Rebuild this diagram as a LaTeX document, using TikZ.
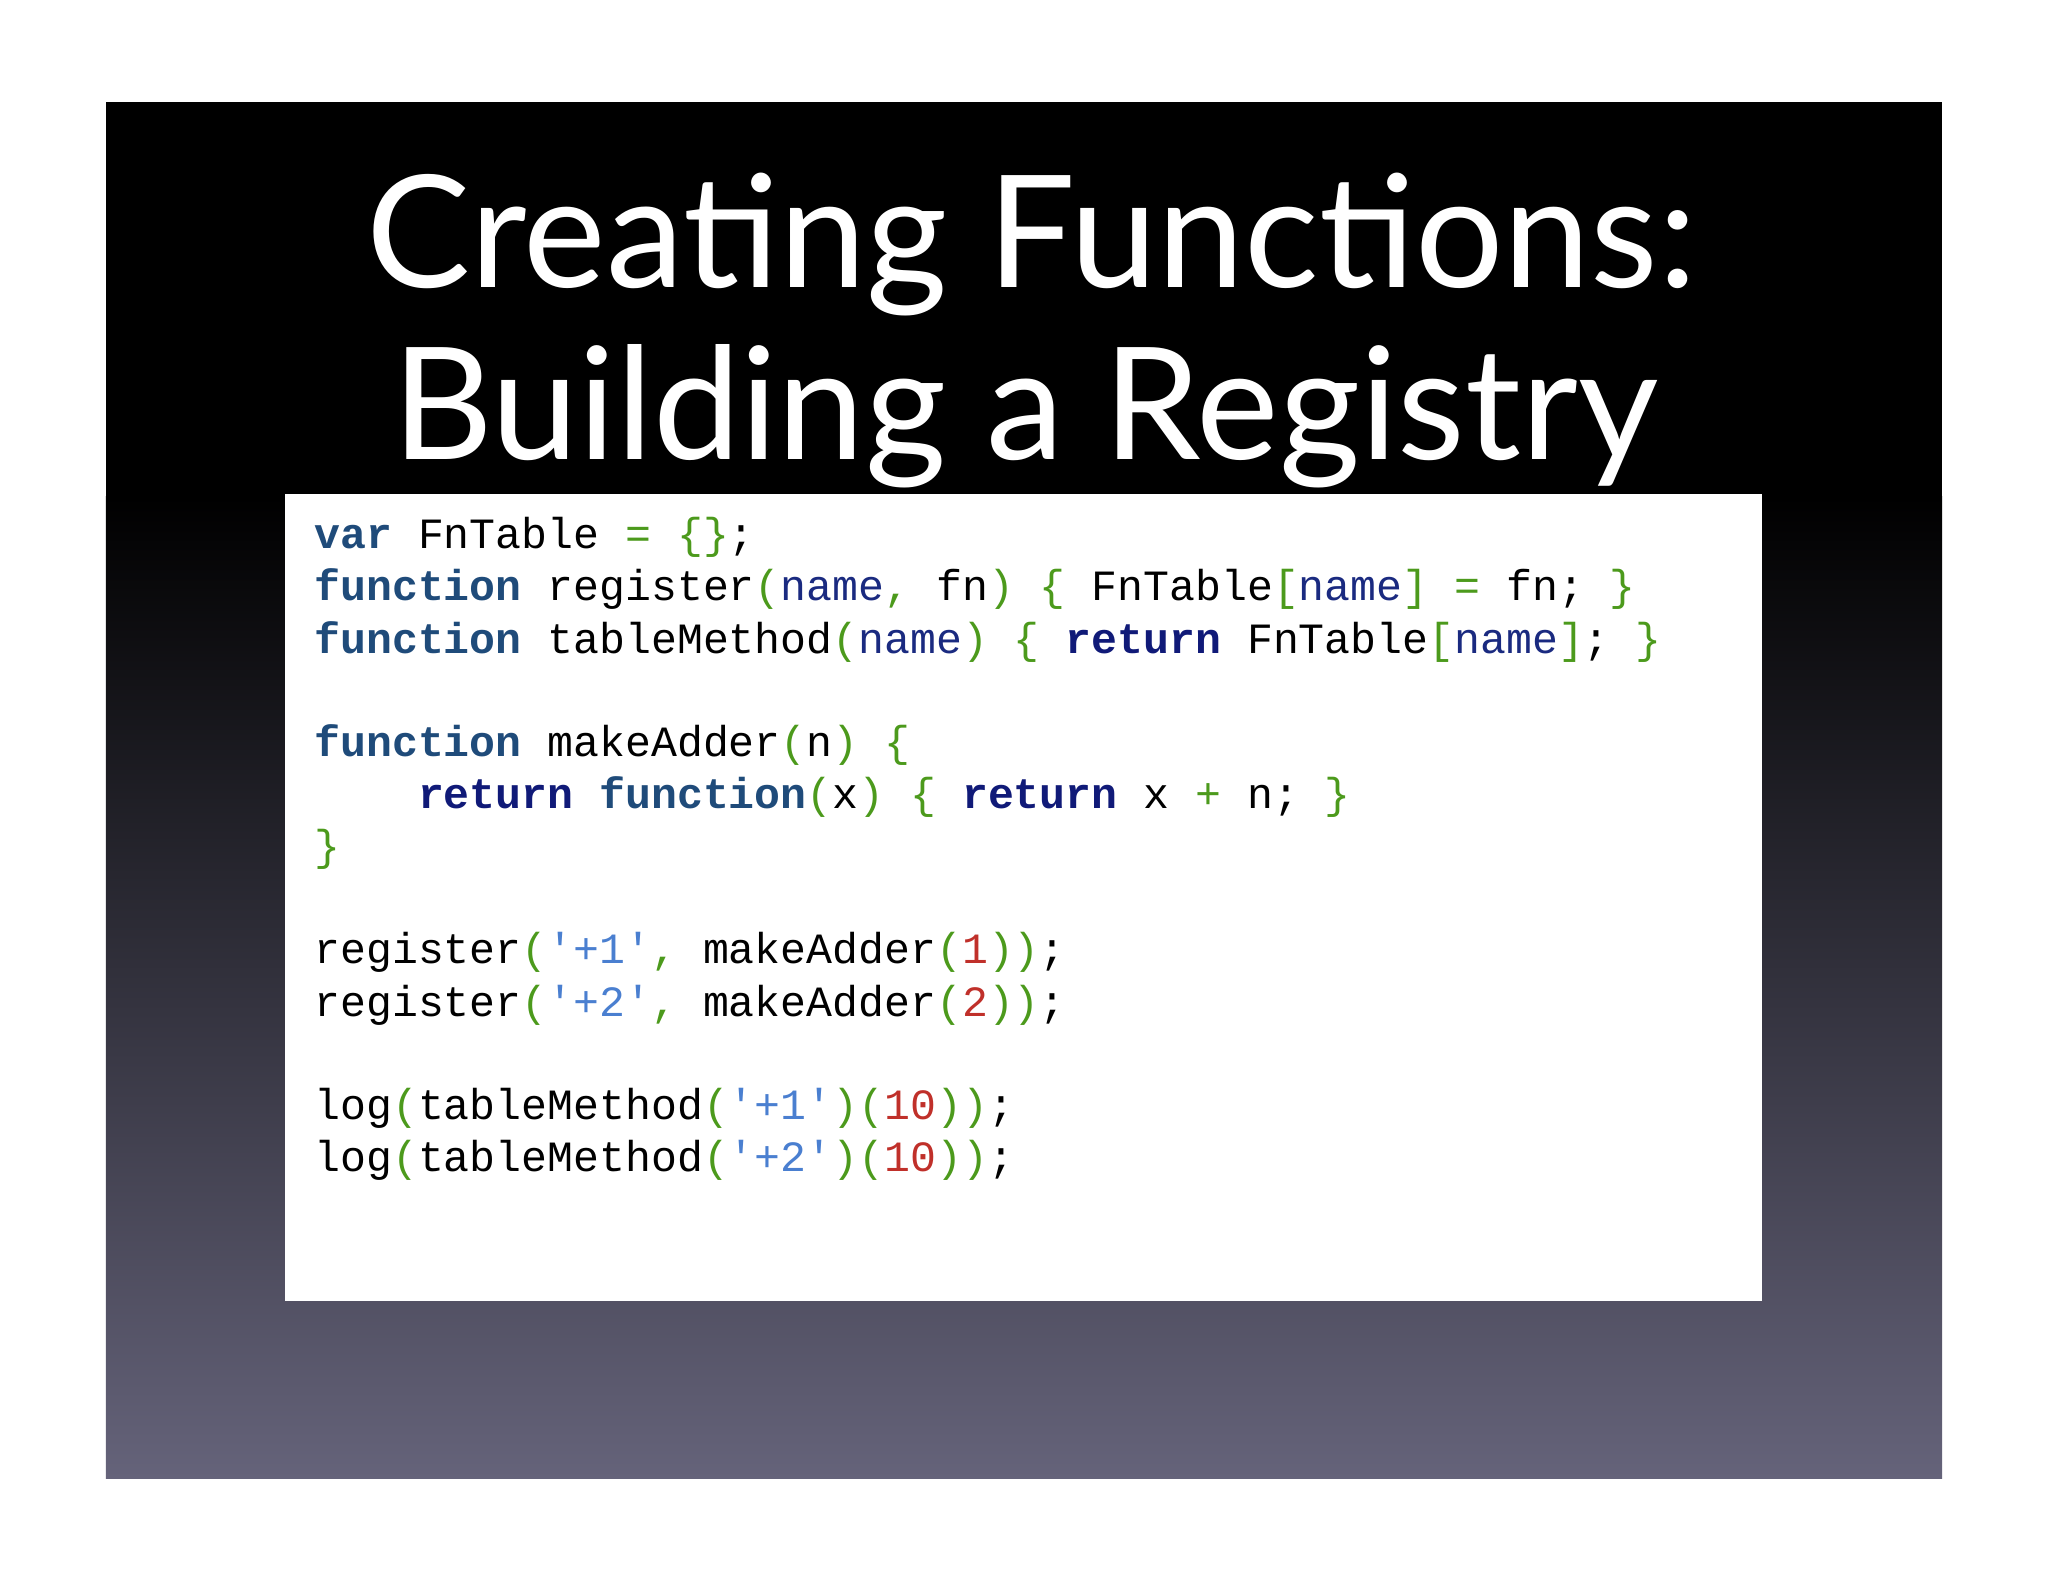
\documentclass[tikz,border=0pt]{standalone}
\usepackage{fontspec}
\setmainfont{Lato}
\newfontfamily\codefont{Liberation Mono}
\definecolor{kwc}{HTML}{1F4B7A}
\definecolor{rtc}{HTML}{101A78}
\definecolor{pnc}{HTML}{4C9A1C}
\definecolor{nmc}{HTML}{1A2A80}
\definecolor{stc}{HTML}{4A7FD0}
\definecolor{nuc}{HTML}{C0302A}
\definecolor{slidebot}{HTML}{65637A}
\definecolor{slidemid}{HTML}{2A2A45}
\newcommand{\kw}[1]{\textcolor{kwc}{\bfseries #1}}
\newcommand{\rt}[1]{\textcolor{rtc}{\bfseries #1}}
\newcommand{\pn}[1]{\textcolor{pnc}{#1}}
\newcommand{\nm}[1]{\textcolor{nmc}{#1}}
\newcommand{\st}[1]{\textcolor{stc}{#1}}
\newcommand{\nr}[1]{\textcolor{nuc}{#1}}
\tikzset{
  codeline/.style={anchor=base west, inner sep=0pt, font=\codefont\fontsize{9.4}{11}\selectfont},
  titleline/.style={anchor=base, inner sep=0pt, text=white, font=\fontsize{34}{40}\selectfont}
}
\begin{document}
\begin{tikzpicture}[x=0.01cm, y=-0.01cm]
  \useasboundingbox (0,0) rectangle (1568,1211);
  % slide background
  \fill[black] (81,78) rectangle (1487,380);
  \shade[top color=black, middle color=slidemid, bottom color=slidebot] (81,380) rectangle (1487,1132);
  \node[titleline] (t1) at (790,220) {Creating Functions:};
  \node[titleline] (t2) at (785,352) {Building a Registry};
  % code box
  \fill[white] (218,378) rectangle (1349,996);
  \node[codeline] (c1) at (240,420) {\kw{var} FnTable \pn{=} \pn{\{\}};};
  \node[codeline] (c2) at (240,460) {\kw{function} register\pn{(}\nm{name}\pn{,} fn\pn{)} \pn{\{} FnTable\pn{[}\nm{name}\pn{]} \pn{=} fn; \pn{\}}};
  \node[codeline] (c3) at (240,500) {\kw{function} tableMethod\pn{(}\nm{name}\pn{)} \pn{\{} \rt{return} FnTable\pn{[}\nm{name}\pn{]}; \pn{\}}};
  \node[codeline] (c4) at (240,579) {\kw{function} makeAdder\pn{(}n\pn{)} \pn{\{}};
  \node[codeline] (c5) at (240,619) {\phantom{xxxx}\rt{return} \kw{function}\pn{(}x\pn{)} \pn{\{} \rt{return} x \pn{+} n; \pn{\}}};
  \node[codeline] (c6) at (240,659) {\pn{\}}};
  \node[codeline] (c7) at (240,738) {register\pn{(}\st{'+1'}\pn{,} makeAdder\pn{(}\nr{1}\pn{))};};
  \node[codeline] (c8) at (240,778) {register\pn{(}\st{'+2'}\pn{,} makeAdder\pn{(}\nr{2}\pn{))};};
  \node[codeline] (c9) at (240,857) {log\pn{(}tableMethod\pn{(}\st{'+1'}\pn{)(}\nr{10}\pn{))};};
  \node[codeline] (c10) at (240,897) {log\pn{(}tableMethod\pn{(}\st{'+2'}\pn{)(}\nr{10}\pn{))};};
\end{tikzpicture}
\end{document}
